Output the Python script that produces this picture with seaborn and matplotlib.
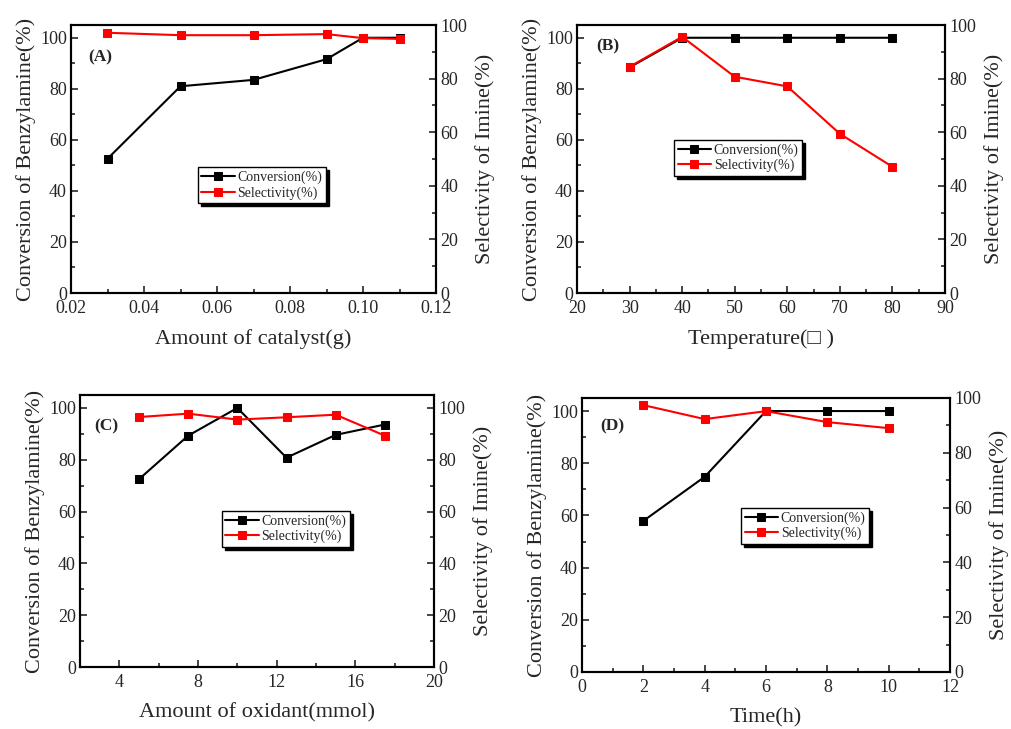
import matplotlib
matplotlib.use("Agg")
import matplotlib.pyplot as plt
from matplotlib.ticker import MultipleLocator, FuncFormatter
import seaborn as sns

# ── data ──
cat_x = [0.03, 0.05, 0.07, 0.09, 0.10, 0.11]
cat_conv = [52.6, 81.0, 83.5, 91.6, 100.0, 100.0]
cat_sel = [97.1, 96.2, 96.2, 96.6, 95.1, 94.8]

temp_x = [30, 40, 50, 60, 70, 80]
temp_conv = [88.4, 100.0, 100.0, 100.0, 100.0, 100.0]
temp_sel = [84.4, 95.6, 80.7, 77.1, 59.4, 47.1]

ox_x = [5, 7.5, 10, 12.5, 15, 17.5]
ox_conv = [72.5, 89.3, 100.0, 80.8, 89.6, 93.6]
ox_sel = [96.5, 97.8, 95.5, 96.4, 97.4, 89.3]

time_x = [2, 4, 6, 8, 10]
time_conv = [57.9, 74.8, 100.0, 100.0, 100.0]
time_sel = [97.4, 92.3, 95.2, 91.2, 89.0]

sns.set_style("ticks")
plt.rcParams["font.family"] = ["Liberation Serif", "DejaVu Serif"]
plt.rcParams["xtick.direction"] = "in"
plt.rcParams["ytick.direction"] = "in"

fig = plt.figure(figsize=(10.11, 7.29), dpi=100)
W, H = 1011, 729

panels = [
    # tag, x, conv, sel, box(left,right,top,bottom px), xlim, major, minor, xlabel, right ylim, legend anchor, tag pos, fmt
    ("(A)", cat_x, cat_conv, cat_sel, (71, 436, 25, 293), (0.02, 0.12), 0.02, 0.01,
     "Amount of catalyst(g)", 100, (0.348, 0.47), (0.047, 0.88), "{:.2f}"),
    ("(B)", temp_x, temp_conv, temp_sel, (577, 945, 25, 293), (20, 90), 10, 5,
     "Temperature(\u25a1 )", 100, (0.264, 0.571), (0.052, 0.92), "{:.0f}"),
    ("(C)", ox_x, ox_conv, ox_sel, (80, 434, 395, 667), (2, 20), 4, 2,
     "Amount of oxidant(mmol)", 105, (0.401, 0.574), (0.04, 0.886), "{:.0f}"),
    ("(D)", time_x, time_conv, time_sel, (582, 950, 398, 672), (0, 12), 2, 1,
     "Time(h)", 100, (0.4325, 0.599), (0.05, 0.898), "{:.0f}"),
]

for tag, x, conv, sel, box, xlim, major, minor, xlabel, rtop, anchor, tagpos, fmt in panels:
    l, r, t, b = box
    ax = fig.add_axes([l / W, (H - b) / H, (r - l) / W, (b - t) / H])
    ax2 = ax.twinx()

    sns.lineplot(x=x, y=conv, ax=ax, color="black", marker="s", markersize=5.5,
                 markeredgecolor="black", linewidth=1.5, label="Conversion(%)", legend=False)
    sns.lineplot(x=x, y=sel, ax=ax2, color="red", marker="s", markersize=5.5,
                 markeredgecolor="red", linewidth=1.5, label="Selectivity(%)", legend=False)

    ax.set_xlim(*xlim)
    ax.set_ylim(0, 105)
    ax2.set_ylim(0, rtop)
    ax.xaxis.set_major_locator(MultipleLocator(major))
    ax.xaxis.set_minor_locator(MultipleLocator(minor))
    ax.xaxis.set_major_formatter(FuncFormatter(lambda v, p, f=fmt: f.format(v)))
    for a in (ax, ax2):
        a.yaxis.set_major_locator(MultipleLocator(20))
        a.yaxis.set_minor_locator(MultipleLocator(10))
        a.tick_params(which="major", length=5, width=1.2, labelsize=13)
        a.tick_params(which="minor", length=3, width=1.2)
        for s in a.spines.values():
            s.set_linewidth(1.5)
            s.set_color("black")
    ax.tick_params(axis="x", which="both", top=False, pad=5)
    ax.tick_params(axis="y", pad=3)
    ax2.tick_params(axis="y", pad=3)
    ax.set_xlabel(xlabel, fontsize=16, labelpad=9)
    ax.set_ylabel("Conversion of Benzylamine(%)", fontsize=16, labelpad=3)
    ax2.set_ylabel("Selectivity of Imine(%)", fontsize=16, labelpad=6)

    ax.text(tagpos[0], tagpos[1], tag, transform=ax.transAxes, fontsize=12.5,
            fontweight="bold", ha="left", va="center")

    handles = ax.get_legend_handles_labels()[0] + ax2.get_legend_handles_labels()[0]
    labels = ["Conversion(%)", "Selectivity(%)"]
    leg = ax2.legend(handles, labels, loc="upper left", bbox_to_anchor=anchor,
                     borderaxespad=0, fontsize=10, fancybox=False, framealpha=1,
                     edgecolor="black", handlelength=2.4, handletextpad=0.2,
                     borderpad=0.25, labelspacing=0.15,
                     shadow={"color": "black", "alpha": 1})
    leg.get_frame().set_linewidth(1.0)

fig.savefig("out.png", dpi=100)
